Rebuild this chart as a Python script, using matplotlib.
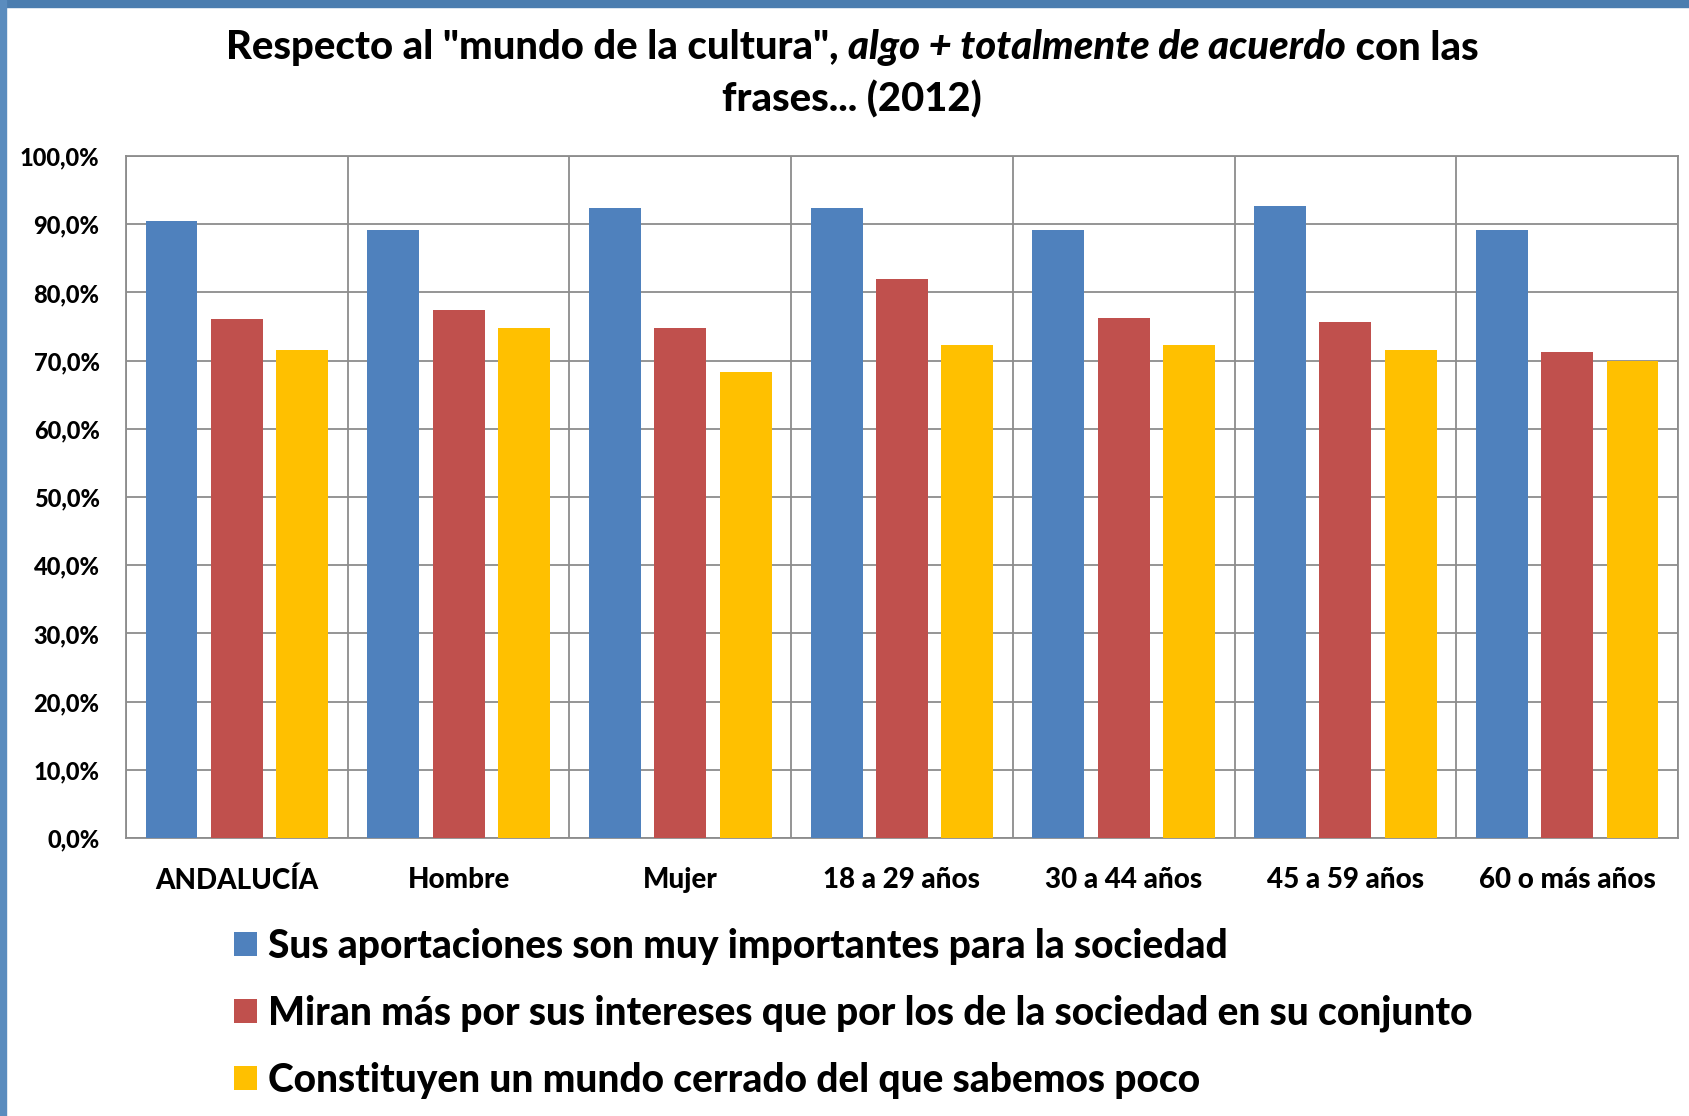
import matplotlib
matplotlib.use('Agg')
import matplotlib.pyplot as plt
from matplotlib.patches import Rectangle
import numpy as np

# data
categories = ['ANDALUCÍA', 'Hombre', 'Mujer', '18 a 29 años', '30 a 44 años', '45 a 59 años', '60 o más años']
series_names = ['Sus aportaciones son muy importantes para la sociedad',
                'Miran más por sus intereses que por los de la sociedad en su conjunto',
                'Constituyen un mundo cerrado del que sabemos poco']
aportaciones = [90.5, 89.1, 92.4, 92.4, 89.2, 92.6, 89.2]
intereses = [76.1, 77.4, 74.8, 82.0, 76.3, 75.6, 71.2]
cerrado = [71.5, 74.8, 68.4, 72.3, 72.3, 71.5, 69.9]
colors = ['#4F81BD', '#C0504D', '#FFC000']
yticks = np.arange(0, 101, 10)

W, H = 1690, 1116
plt.rcParams['font.family'] = ['Lato', 'DejaVu Sans']
WT = 900  # heavy weight, closer to the bold Calibri of the original

fig = plt.figure(figsize=(W / 100, H / 100), dpi=100)
fig.patch.set_facecolor('white')

# blue frame strips on top and left side
fig.patches.append(Rectangle((0, 1 - 7 / H), 1, 7 / H, transform=fig.transFigure, color='#4B7DAF', zorder=0))
fig.patches.append(Rectangle((0, 0), 6 / W, 1, transform=fig.transFigure, color='#5A8CBE', zorder=0))

ax = fig.add_axes([126 / W, 1 - 838 / H, (1678 - 126) / W, (838 - 156) / H])

x = np.arange(len(categories))
width = 0.234
step = 0.295
for i, (vals, name) in enumerate(zip([aportaciones, intereses, cerrado], series_names)):
    ax.bar(x + (i - 1) * step, vals, width, color=colors[i], label=name, zorder=3)

ax.set_xlim(-0.5, len(categories) - 0.5)
ax.set_ylim(0, 100)
ax.set_yticks(yticks)
ax.yaxis.set_major_formatter(matplotlib.ticker.FuncFormatter(lambda v, p: ('%.1f%%' % v).replace('.', ',')))
ax.set_xticks(x)
ax.set_xticklabels(categories)
ax.set_xticks(np.arange(-0.5, len(categories), 1), minor=True)
ax.tick_params(axis='y', length=0, pad=19, labelsize=17)
ax.tick_params(axis='x', which='both', length=0, pad=21, labelsize=20)
for lbl in ax.get_xticklabels() + ax.get_yticklabels():
    lbl.set_fontweight(WT)
ax.grid(axis='y', which='major', color='#8C8C8C', linewidth=1.3, zorder=0)
ax.grid(axis='x', which='minor', color='#8C8C8C', linewidth=1.3, zorder=0)
for s in ax.spines.values():
    s.set_color('#8C8C8C')
    s.set_linewidth(1.3)

# legend below the plot
handles, labels = ax.get_legend_handles_labels()
fig.legend(handles, labels, loc='upper left', bbox_to_anchor=(234 / W, 1 - 928 / H),
           frameon=False, prop={'size': 28, 'weight': WT}, handlelength=0.58, handleheight=0.58,
           handletextpad=0.3, labelspacing=0.76, borderpad=0, borderaxespad=0)

# title with an italic piece in the middle
cx = 852 / W
pieces = [('Respecto al "mundo de la cultura", ', 'normal'),
          ('algo + totalmente de acuerdo', 'italic'),
          (' con las', 'normal')]
fig.canvas.draw()
r = fig.canvas.get_renderer()
texts = []
for s, st in pieces:
    t = fig.text(0, 1 - 48 / H, s, fontsize=28.8, fontweight=WT, style=st, va='center', ha='left')
    texts.append(t)
widths = [t.get_window_extent(r).width for t in texts]
xpos = cx * W - sum(widths) / 2
for t, w in zip(texts, widths):
    t.set_x(xpos / W)
    xpos += w
fig.text(cx, 1 - 99 / H, 'frases... (2012)', fontsize=28.8, fontweight=WT, va='center', ha='center')

fig.savefig('out.png', dpi=100)
